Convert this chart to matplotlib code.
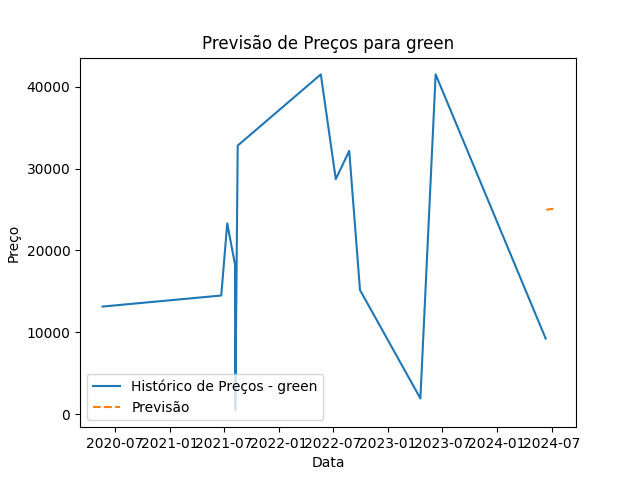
import numpy as np
import pandas as pd
import matplotlib
matplotlib.use('Agg')
import matplotlib.pyplot as plt

# historical prices
hist_dates = ['2020-05-21', '2021-06-22', '2021-07-12', '2021-08-07', '2021-08-08',
              '2021-08-16', '2022-05-21', '2022-07-10', '2022-08-24', '2022-09-29',
              '2023-04-19', '2023-06-09', '2024-06-11']
hist_prices = [13130, 14480, 23290, 18270, 440,
               32800, 41500, 28700, 32150, 15150,
               1900, 41500, 9220]

# forecast
pred_dates = ['2024-06-13', '2024-06-21', '2024-06-29', '2024-07-07']
pred_prices = [24950, 25000, 25050, 25080]

item = 'green'


def main():
    hist = pd.DataFrame({'date': pd.to_datetime(hist_dates), 'price': hist_prices})
    pred = pd.DataFrame({'date': pd.to_datetime(pred_dates), 'price': pred_prices})

    fig, ax = plt.subplots(figsize=(6.4, 4.8), dpi=100)
    ax.plot(hist['date'], hist['price'], label='Histórico de Preços - ' + item)
    ax.plot(pred['date'], pred['price'], linestyle='--', label='Previsão')
    ax.set_title('Previsão de Preços para ' + item)
    ax.set_xlabel('Data')
    ax.set_ylabel('Preço')
    ax.legend(loc='lower left')
    fig.savefig('out.png')
    plt.close(fig)


if __name__ == "__main__":
    main()
